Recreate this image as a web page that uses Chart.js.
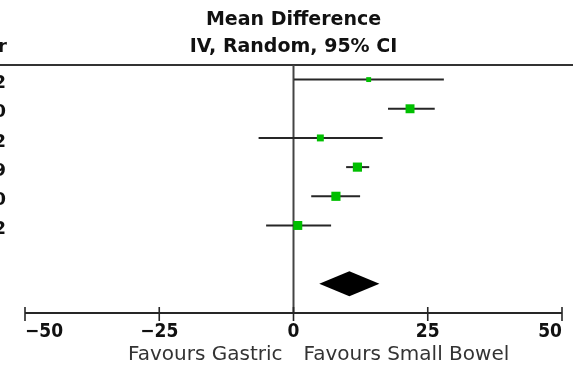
<!DOCTYPE html>
<html>
<head>
<meta charset="utf-8">
<script src="https://cdn.jsdelivr.net/npm/chart.js@4/dist/chart.umd.min.js"></script>
<style>
  html, body { margin: 0; padding: 0; background: #fff; }
  canvas { display: block; }
</style>
</head>
<body>
<canvas id="forest" width="573" height="368"></canvas>
<script>
// study rows (only the tail of the year column is visible)
const years = ["2012", "2010", "2002", "2009", "2010", "2012"];
const meanDiff = [14.0, 21.7, 5.0, 11.9, 7.9, 0.8];
const ciLow = [0.1, 17.6, -6.5, 9.8, 3.3, -5.1];
const ciHigh = [28.0, 26.3, 16.6, 14.1, 12.4, 7.0];
const weights = [6, 20, 12, 21, 21, 20];
// pooled estimate
const pooled = [4.8, 10.4, 16.0];  // low, estimate, high
const pooledRow = 8;
const xTicks = [-50, -25, 0, 25, 50];
const tickText = ["\u221250", "\u221225", "0", "25", "50"];
const titleLines = ["Mean Difference", "IV, Random, 95% CI"];
const favours = ["Favours Gastric", "Favours Small Bowel"];

const GREEN = "#00bf00";
const INK = "#262626";

let datasets = [];
datasets.push({
    label: "MD",
    data: meanDiff.map((v, i) => ({ x: v, y: i + 1 })),
    pointStyle: "rect",
    pointRadius: weights.map(w => Math.sqrt(w) * 2 / Math.SQRT2),
    backgroundColor: GREEN, borderColor: GREEN, borderWidth: 0,
    order: 0
});
meanDiff.forEach((v, i) => {
    datasets.push({
        label: "CI " + (i + 1),
        data: [{ x: ciLow[i], y: i + 1 }, { x: ciHigh[i], y: i + 1 }],
        showLine: true, pointRadius: 0, borderColor: INK, borderWidth: 2,
        order: 1
    });
});

const forestDecor = {
    id: "forestDecor",
    beforeDatasetsDraw(chart) {
        const ctx = chart.ctx, a = chart.chartArea;
        const xs = chart.scales.x, ys = chart.scales.y;
        ctx.save();
        ctx.lineCap = "butt";
        // header rule
        ctx.strokeStyle = "#333"; ctx.lineWidth = 2;
        ctx.beginPath(); ctx.moveTo(0, a.top); ctx.lineTo(chart.width, a.top); ctx.stroke();
        // line of no effect
        const x0 = xs.getPixelForValue(0);
        ctx.strokeStyle = "#444"; ctx.lineWidth = 2;
        ctx.beginPath(); ctx.moveTo(x0, a.top); ctx.lineTo(x0, a.bottom); ctx.stroke();
        // x axis
        ctx.strokeStyle = INK; ctx.lineWidth = 2;
        ctx.beginPath(); ctx.moveTo(a.left, a.bottom); ctx.lineTo(a.right, a.bottom); ctx.stroke();
        ctx.lineWidth = 1.6;
        xTicks.forEach(t => {
            const px = xs.getPixelForValue(t);
            ctx.beginPath(); ctx.moveTo(px, a.bottom - 6); ctx.lineTo(px, a.bottom + 8); ctx.stroke();
        });
        // pooled diamond
        const yd = ys.getPixelForValue(pooledRow);
        ctx.fillStyle = "#000";
        ctx.beginPath();
        ctx.moveTo(xs.getPixelForValue(pooled[0]), yd);
        ctx.lineTo(xs.getPixelForValue(pooled[1]), yd - 12.5);
        ctx.lineTo(xs.getPixelForValue(pooled[2]), yd);
        ctx.lineTo(xs.getPixelForValue(pooled[1]), yd + 12.5);
        ctx.closePath(); ctx.fill();
        ctx.restore();
    },
    afterDraw(chart) {
        const ctx = chart.ctx, a = chart.chartArea;
        const xs = chart.scales.x, ys = chart.scales.y;
        const x0 = xs.getPixelForValue(0);
        ctx.save();
        // title
        ctx.fillStyle = "#111";
        ctx.font = "bold 19px 'DejaVu Sans'";
        ctx.textAlign = "center"; ctx.textBaseline = "middle";
        ctx.fillText(titleLines[0], x0, 20);
        ctx.fillText(titleLines[1], x0, 47);
        // clipped year column
        ctx.textAlign = "right";
        ctx.font = "bold 18px 'DejaVu Sans'";
        ctx.fillText("Year", 7, 47);
        years.forEach((y, i) => ctx.fillText(y, 6, ys.getPixelForValue(i + 1) + 4));
        // tick labels
        ctx.font = "bold 19px 'DejaVu Sans Condensed', 'DejaVu Sans'";
        xTicks.forEach((t, i) => {
            const px = xs.getPixelForValue(t);
            ctx.textAlign = i === 0 ? "left" : (i === xTicks.length - 1 ? "right" : "center");
            ctx.fillText(tickText[i], px, a.bottom + 19);
        });
        // favours labels
        ctx.fillStyle = "#333";
        ctx.font = "20px 'DejaVu Sans'";
        ctx.textAlign = "right"; ctx.fillText(favours[0], x0 - 11, a.bottom + 42);
        ctx.textAlign = "left"; ctx.fillText(favours[1], x0 + 10, a.bottom + 42);
        ctx.restore();
    }
};

new Chart(document.getElementById("forest"), {
    type: "scatter",
    data: { datasets: datasets },
    options: {
        responsive: false, animation: false,
        layout: { padding: { left: 25, right: 11, top: 65, bottom: 55 } },
        plugins: { legend: { display: false }, tooltip: { enabled: false }, title: { display: false } },
        scales: {
            x: { type: "linear", min: -50, max: 50, display: false },
            y: { type: "linear", min: 0.5, max: 9, reverse: true, display: false }
        }
    },
    plugins: [forestDecor]
});
</script>
</body>
</html>
